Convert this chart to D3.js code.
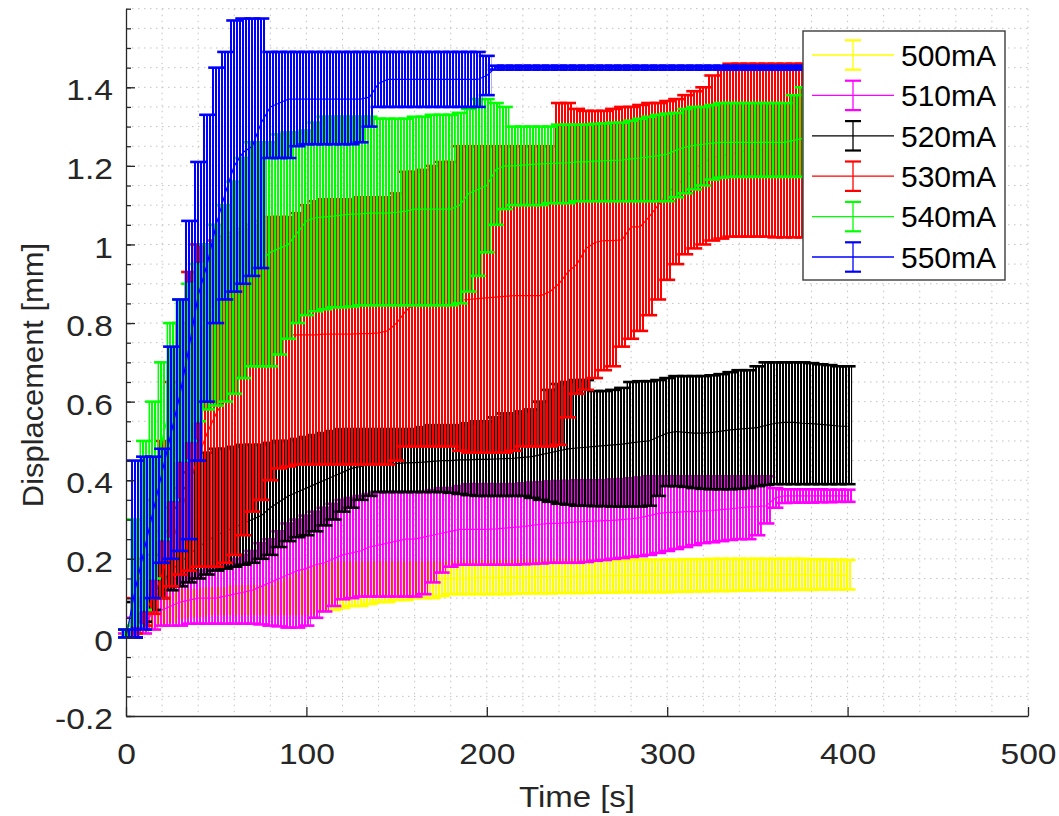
<!DOCTYPE html>
<html>
<head>
<meta charset="utf-8">
<script src="https://cdn.jsdelivr.net/npm/d3@7"></script>
<style>
  html, body { margin: 0; padding: 0; background: #ffffff; }
  svg { display: block; font-family: "Liberation Sans", Arial, Helvetica, sans-serif; }
</style>
</head>
<body>
<svg id="chart" width="1059" height="816"></svg>
<script>
// ---- sample times (s) ----
const TIME = [
  0, 5, 10, 15, 20, 25, 30, 35, 40, 45,
  50, 55, 60, 65, 70, 75, 80, 85, 90, 95,
  100, 105, 110, 115, 120, 125, 130, 135, 140, 145,
  150, 155, 160, 165, 170, 175, 180, 185, 190, 195,
  200, 205, 210, 215, 220, 225, 230, 235, 240, 245,
  250, 255, 260, 265, 270, 275, 280, 285, 290, 295,
  300, 305, 310, 315, 320, 325, 330, 335, 340, 345,
  350, 355, 360, 365, 370, 375, 380, 385, 390, 395,
  400
];

// ---- 500 mA ----
const MEAN_500 = [
  0.00, 0.01, 0.03, 0.05, 0.06, 0.07, 0.08, 0.085, 0.09, 0.09,
  0.09, 0.09, 0.095, 0.095, 0.10, 0.10, 0.10, 0.105, 0.11, 0.11,
  0.115, 0.12, 0.12, 0.125, 0.13, 0.13, 0.135, 0.135, 0.14, 0.14,
  0.14, 0.145, 0.145, 0.15, 0.15, 0.15, 0.15, 0.151, 0.151, 0.152,
  0.152, 0.152, 0.153, 0.153, 0.154, 0.154, 0.155, 0.155, 0.155, 0.155,
  0.156, 0.156, 0.156, 0.157, 0.157, 0.157, 0.158, 0.158, 0.158, 0.158,
  0.159, 0.159, 0.159, 0.16, 0.16, 0.16, 0.16, 0.16, 0.161, 0.161,
  0.161, 0.161, 0.16, 0.16, 0.16, 0.16, 0.159, 0.159, 0.159, 0.158,
  0.158
];
const LO_500 = [
  0.00, 0.00, 0.01, 0.02, 0.03, 0.04, 0.05, 0.055, 0.055, 0.06,
  0.06, 0.06, 0.06, 0.06, 0.06, 0.06, 0.06, 0.06, 0.06, 0.06,
  0.06, 0.065, 0.07, 0.07, 0.075, 0.08, 0.08, 0.085, 0.09, 0.09,
  0.095, 0.095, 0.10, 0.10, 0.10, 0.105, 0.11, 0.11, 0.11, 0.11,
  0.11, 0.11, 0.11, 0.111, 0.112, 0.112, 0.112, 0.112, 0.113, 0.113,
  0.113, 0.113, 0.114, 0.114, 0.114, 0.115, 0.115, 0.115, 0.115, 0.115,
  0.115, 0.116, 0.116, 0.117, 0.117, 0.118, 0.118, 0.118, 0.119, 0.119,
  0.12, 0.12, 0.12, 0.12, 0.121, 0.121, 0.121, 0.122, 0.122, 0.122,
  0.122
];
const HI_500 = [
  0.01, 0.03, 0.06, 0.09, 0.10, 0.11, 0.12, 0.12, 0.12, 0.125,
  0.125, 0.125, 0.13, 0.13, 0.13, 0.13, 0.13, 0.14, 0.15, 0.16,
  0.17, 0.18, 0.185, 0.19, 0.19, 0.19, 0.19, 0.19, 0.19, 0.19,
  0.19, 0.19, 0.19, 0.19, 0.19, 0.19, 0.19, 0.192, 0.192, 0.193,
  0.193, 0.193, 0.194, 0.194, 0.195, 0.195, 0.195, 0.195, 0.196, 0.196,
  0.196, 0.196, 0.197, 0.197, 0.197, 0.197, 0.198, 0.198, 0.198, 0.198,
  0.198, 0.198, 0.199, 0.199, 0.199, 0.20, 0.20, 0.20, 0.20, 0.20,
  0.20, 0.20, 0.20, 0.20, 0.20, 0.20, 0.199, 0.199, 0.198, 0.198,
  0.197
];

// ---- 510 mA ----
const MEAN_510 = [
  0.00, 0.02, 0.04, 0.06, 0.07, 0.08, 0.09, 0.095, 0.10, 0.10,
  0.10, 0.105, 0.11, 0.115, 0.12, 0.13, 0.14, 0.15, 0.16, 0.17,
  0.175, 0.185, 0.19, 0.20, 0.21, 0.215, 0.22, 0.23, 0.235, 0.24,
  0.245, 0.25, 0.25, 0.255, 0.26, 0.265, 0.27, 0.275, 0.275, 0.275,
  0.275, 0.276, 0.278, 0.28, 0.282, 0.285, 0.288, 0.29, 0.29, 0.292,
  0.294, 0.295, 0.296, 0.297, 0.298, 0.30, 0.302, 0.305, 0.31, 0.315,
  0.318, 0.318, 0.32, 0.32, 0.322, 0.323, 0.325, 0.327, 0.33, 0.332,
  0.333, 0.335, 0.355, 0.36, 0.36, 0.36, 0.36, 0.36, 0.36, 0.36,
  0.36
];
const LO_510 = [
  0.00, 0.00, 0.01, 0.02, 0.03, 0.03, 0.03, 0.035, 0.035, 0.035,
  0.035, 0.035, 0.035, 0.035, 0.035, 0.033, 0.03, 0.028, 0.025, 0.025,
  0.03, 0.05, 0.066, 0.08, 0.097, 0.10, 0.104, 0.104, 0.104, 0.104,
  0.104, 0.104, 0.104, 0.11, 0.14, 0.165, 0.18, 0.185, 0.185, 0.185,
  0.185, 0.185, 0.185, 0.185, 0.186, 0.187, 0.188, 0.19, 0.19, 0.19,
  0.19, 0.192, 0.195, 0.197, 0.20, 0.202, 0.205, 0.207, 0.21, 0.215,
  0.22, 0.225, 0.23, 0.235, 0.24, 0.242, 0.245, 0.248, 0.25, 0.25,
  0.26, 0.29, 0.33, 0.342, 0.343, 0.343, 0.343, 0.344, 0.344, 0.345,
  0.345
];
const HI_510 = [
  0.01, 0.05, 0.08, 0.11, 0.13, 0.15, 0.16, 0.17, 0.17, 0.18,
  0.18, 0.19, 0.20, 0.21, 0.22, 0.24, 0.25, 0.27, 0.29, 0.30,
  0.31, 0.32, 0.33, 0.34, 0.35, 0.355, 0.36, 0.365, 0.37, 0.37,
  0.37, 0.37, 0.37, 0.37, 0.375, 0.38, 0.38, 0.385, 0.39, 0.39,
  0.39, 0.39, 0.39, 0.39, 0.392, 0.394, 0.395, 0.397, 0.398, 0.398,
  0.40, 0.40, 0.40, 0.40, 0.402, 0.403, 0.405, 0.407, 0.41, 0.41,
  0.41, 0.41, 0.41, 0.41, 0.41, 0.41, 0.41, 0.41, 0.41, 0.41,
  0.41, 0.41, 0.38, 0.377, 0.377, 0.377, 0.377, 0.377, 0.376, 0.376,
  0.376
];

// ---- 520 mA ----
const MEAN_520 = [
  0.00, 0.04, 0.08, 0.11, 0.14, 0.17, 0.19, 0.21, 0.23, 0.245,
  0.26, 0.27, 0.28, 0.29, 0.30, 0.31, 0.33, 0.345, 0.36, 0.37,
  0.38, 0.39, 0.40, 0.41, 0.42, 0.43, 0.435, 0.44, 0.44, 0.442,
  0.443, 0.444, 0.445, 0.446, 0.448, 0.45, 0.45, 0.452, 0.452, 0.453,
  0.453, 0.454, 0.455, 0.456, 0.458, 0.46, 0.465, 0.47, 0.475, 0.48,
  0.482, 0.484, 0.486, 0.488, 0.49, 0.492, 0.495, 0.498, 0.50, 0.51,
  0.52, 0.524, 0.522, 0.52, 0.52, 0.522, 0.525, 0.528, 0.53, 0.532,
  0.534, 0.54, 0.545, 0.547, 0.547, 0.545, 0.544, 0.542, 0.54, 0.538,
  0.537
];
const LO_520 = [
  0.00, 0.00, 0.04, 0.07, 0.10, 0.12, 0.13, 0.14, 0.15, 0.16,
  0.17, 0.175, 0.18, 0.185, 0.19, 0.20, 0.21, 0.23, 0.245, 0.255,
  0.26, 0.27, 0.285, 0.30, 0.32, 0.33, 0.35, 0.36, 0.37, 0.37,
  0.37, 0.37, 0.37, 0.37, 0.37, 0.37, 0.368, 0.365, 0.362, 0.36,
  0.36, 0.36, 0.36, 0.36, 0.36, 0.355, 0.35, 0.345, 0.34, 0.338,
  0.335, 0.335, 0.334, 0.334, 0.333, 0.333, 0.333, 0.333, 0.335, 0.36,
  0.385, 0.385, 0.383, 0.38, 0.378, 0.377, 0.377, 0.377, 0.378, 0.38,
  0.385, 0.388, 0.39, 0.39, 0.39, 0.39, 0.39, 0.39, 0.39, 0.39,
  0.39
];
const HI_520 = [
  0.02, 0.09, 0.15, 0.21, 0.27, 0.33, 0.38, 0.42, 0.45, 0.47,
  0.48, 0.48, 0.485, 0.49, 0.49, 0.49, 0.495, 0.50, 0.50, 0.505,
  0.51, 0.515, 0.52, 0.525, 0.53, 0.53, 0.53, 0.53, 0.53, 0.53,
  0.53, 0.53, 0.53, 0.535, 0.54, 0.54, 0.54, 0.54, 0.545, 0.55,
  0.55, 0.56, 0.57, 0.57, 0.575, 0.58, 0.60, 0.63, 0.645, 0.65,
  0.655, 0.655, 0.627, 0.627, 0.63, 0.635, 0.65, 0.652, 0.652, 0.655,
  0.66, 0.665, 0.665, 0.665, 0.665, 0.667, 0.67, 0.675, 0.68, 0.68,
  0.69, 0.70, 0.70, 0.70, 0.70, 0.70, 0.698, 0.695, 0.693, 0.69,
  0.69
];

// ---- 530 mA ----
const MEAN_530 = [
  0.00, 0.03, 0.06, 0.10, 0.16, 0.23, 0.31, 0.39, 0.46, 0.52,
  0.57, 0.61, 0.65, 0.69, 0.72, 0.74, 0.755, 0.765, 0.77, 0.77,
  0.77, 0.77, 0.772, 0.772, 0.772, 0.772, 0.773, 0.773, 0.775, 0.78,
  0.80, 0.83, 0.85, 0.855, 0.855, 0.856, 0.857, 0.858, 0.86, 0.862,
  0.864, 0.866, 0.868, 0.87, 0.87, 0.87, 0.87, 0.88, 0.90, 0.93,
  0.95, 0.99, 1.005, 1.01, 1.01, 1.012, 1.045, 1.045, 1.07, 1.10,
  1.13, 1.15, 1.17, 1.19, 1.21, 1.22, 1.225, 1.23, 1.235, 1.24,
  1.24, 1.24, 1.24, 1.24, 1.24, 1.24, 1.24, 1.24, 1.24, 1.24,
  1.24
];
const LO_530 = [
  0.00, 0.01, 0.03, 0.06, 0.10, 0.13, 0.16, 0.17, 0.18, 0.18,
  0.18, 0.19, 0.21, 0.26, 0.32, 0.35, 0.40, 0.43, 0.435, 0.44,
  0.44, 0.44, 0.44, 0.44, 0.44, 0.44, 0.44, 0.44, 0.44, 0.44,
  0.45, 0.486, 0.486, 0.486, 0.486, 0.486, 0.486, 0.475, 0.47, 0.47,
  0.47, 0.47, 0.47, 0.475, 0.486, 0.486, 0.486, 0.486, 0.49, 0.56,
  0.62, 0.63, 0.66, 0.68, 0.69, 0.74, 0.76, 0.78, 0.82, 0.86,
  0.91, 0.95, 0.975, 0.99, 1.00, 1.01, 1.015, 1.02, 1.02, 1.02,
  1.02, 1.02, 1.018, 1.018, 1.018, 1.018, 1.018, 1.018, 1.018, 1.018,
  1.018
];
const HI_530 = [
  0.02, 0.10, 0.20, 0.35, 0.50, 0.65, 0.80, 0.93, 1.00, 1.00,
  1.01, 1.02, 1.03, 1.04, 1.05, 1.06, 1.07, 1.07, 1.07, 1.08,
  1.10, 1.11, 1.115, 1.115, 1.115, 1.115, 1.12, 1.12, 1.12, 1.12,
  1.13, 1.185, 1.185, 1.19, 1.20, 1.21, 1.21, 1.25, 1.25, 1.25,
  1.25, 1.25, 1.25, 1.25, 1.25, 1.25, 1.25, 1.25, 1.36, 1.36,
  1.345, 1.34, 1.34, 1.34, 1.345, 1.35, 1.35, 1.355, 1.36, 1.36,
  1.365, 1.37, 1.38, 1.39, 1.40, 1.43, 1.45, 1.46, 1.46, 1.46,
  1.46, 1.46, 1.46, 1.46, 1.46, 1.46, 1.46, 1.46, 1.46, 1.46,
  1.46
];

// ---- 540 mA ----
const MEAN_540 = [
  0.00, 0.10, 0.25, 0.38, 0.50, 0.60, 0.68, 0.73, 0.78, 0.82,
  0.85, 0.88, 0.90, 0.92, 0.94, 0.96, 0.98, 0.99, 1.00, 1.03,
  1.06, 1.068, 1.07, 1.072, 1.075, 1.077, 1.078, 1.08, 1.08, 1.08,
  1.082, 1.085, 1.09, 1.09, 1.09, 1.09, 1.09, 1.10, 1.13, 1.14,
  1.15, 1.19, 1.20, 1.20, 1.202, 1.204, 1.205, 1.206, 1.207, 1.208,
  1.21, 1.21, 1.212, 1.213, 1.214, 1.215, 1.218, 1.22, 1.223, 1.226,
  1.23, 1.24, 1.248, 1.252, 1.255, 1.258, 1.26, 1.26, 1.26, 1.26,
  1.26, 1.26, 1.26, 1.26, 1.265, 1.27, 1.27, 1.27, 1.27, 1.27,
  1.27
];
const LO_540 = [
  0.00, 0.03, 0.07, 0.15, 0.25, 0.35, 0.45, 0.50, 0.55, 0.58,
  0.59, 0.60, 0.62, 0.66, 0.69, 0.69, 0.69, 0.72, 0.76, 0.80,
  0.82, 0.83, 0.835, 0.84, 0.84, 0.842, 0.845, 0.845, 0.845, 0.845,
  0.845, 0.845, 0.845, 0.845, 0.845, 0.845, 0.845, 0.85, 0.88, 0.92,
  0.98, 1.05, 1.09, 1.10, 1.10, 1.10, 1.10, 1.105, 1.105, 1.105,
  1.11, 1.11, 1.11, 1.11, 1.11, 1.11, 1.11, 1.11, 1.11, 1.11,
  1.11, 1.12, 1.13, 1.14, 1.15, 1.165, 1.17, 1.172, 1.172, 1.172,
  1.172, 1.172, 1.172, 1.172, 1.172, 1.172, 1.172, 1.172, 1.172, 1.172,
  1.172
];
const HI_540 = [
  0.02, 0.30, 0.50, 0.60, 0.70, 0.80, 0.86, 0.90, 0.95, 1.00,
  1.05, 1.10, 1.16, 1.22, 1.26, 1.26, 1.26, 1.28, 1.285, 1.285,
  1.29, 1.31, 1.325, 1.325, 1.325, 1.325, 1.325, 1.325, 1.32, 1.32,
  1.32, 1.32, 1.325, 1.325, 1.33, 1.33, 1.33, 1.335, 1.345, 1.37,
  1.37, 1.36, 1.35, 1.30, 1.30, 1.30, 1.30, 1.30, 1.305, 1.305,
  1.305, 1.305, 1.307, 1.308, 1.31, 1.31, 1.315, 1.32, 1.325, 1.33,
  1.333, 1.335, 1.345, 1.35, 1.35, 1.355, 1.36, 1.36, 1.36, 1.36,
  1.36, 1.36, 1.36, 1.36, 1.38, 1.40, 1.40, 1.40, 1.40, 1.40,
  1.40
];

// ---- 550 mA ----
const MEAN_550 = [
  0.00, 0.12, 0.22, 0.32, 0.42, 0.52, 0.62, 0.74, 0.87, 0.95,
  1.05, 1.13, 1.20, 1.235, 1.25, 1.31, 1.35, 1.36, 1.37, 1.37,
  1.37, 1.37, 1.37, 1.37, 1.37, 1.37, 1.37, 1.375, 1.41, 1.42,
  1.42, 1.42, 1.42, 1.42, 1.42, 1.42, 1.42, 1.42, 1.42, 1.42,
  1.43, 1.45, 1.45, 1.45, 1.45, 1.45, 1.45, 1.45, 1.45, 1.45,
  1.45, 1.45, 1.45, 1.45, 1.45, 1.45, 1.45, 1.45, 1.45, 1.45,
  1.45, 1.45, 1.45, 1.45, 1.45, 1.45, 1.45, 1.45, 1.45, 1.45,
  1.45, 1.45, 1.45, 1.45, 1.45, 1.45, 1.45, 1.45, 1.45, 1.45,
  1.45
];
const LO_550 = [
  0.00, 0.00, 0.02, 0.10, 0.19, 0.20, 0.22, 0.25, 0.45, 0.60,
  0.80, 0.86, 0.88, 0.90, 0.92, 0.94, 1.22, 1.22, 1.22, 1.25,
  1.255, 1.255, 1.255, 1.255, 1.255, 1.255, 1.26, 1.30, 1.35, 1.35,
  1.35, 1.35, 1.35, 1.35, 1.35, 1.35, 1.35, 1.35, 1.35, 1.35,
  1.38, 1.445, 1.445, 1.445, 1.445, 1.445, 1.445, 1.445, 1.445, 1.445,
  1.445, 1.445, 1.445, 1.445, 1.445, 1.445, 1.445, 1.445, 1.445, 1.445,
  1.445, 1.445, 1.445, 1.445, 1.445, 1.445, 1.445, 1.445, 1.445, 1.445,
  1.445, 1.445, 1.445, 1.445, 1.445, 1.445, 1.445, 1.445, 1.445, 1.445,
  1.445
];
const HI_550 = [
  0.02, 0.45, 0.46, 0.46, 0.48, 0.74, 0.86, 1.06, 1.21, 1.33,
  1.45, 1.49, 1.57, 1.575, 1.575, 1.575, 1.49, 1.49, 1.49, 1.49,
  1.49, 1.49, 1.49, 1.49, 1.49, 1.49, 1.49, 1.49, 1.49, 1.49,
  1.49, 1.49, 1.49, 1.49, 1.49, 1.49, 1.49, 1.49, 1.49, 1.49,
  1.48, 1.455, 1.455, 1.455, 1.455, 1.455, 1.455, 1.455, 1.455, 1.455,
  1.455, 1.455, 1.455, 1.455, 1.455, 1.455, 1.455, 1.455, 1.455, 1.455,
  1.455, 1.455, 1.455, 1.455, 1.455, 1.455, 1.455, 1.455, 1.455, 1.455,
  1.455, 1.455, 1.455, 1.455, 1.455, 1.455, 1.455, 1.455, 1.455, 1.455,
  1.455
];

// ---- labels, colours, ticks ----
const SERIES_NAMES = ["500mA", "510mA", "520mA", "530mA", "540mA", "550mA"];
const SERIES_COLORS = ["#ffff00", "#ff00ff", "#000000", "#ff0000", "#00ff00", "#0000ff"];
const X_TICKS = [0, 100, 200, 300, 400, 500];
const Y_TICKS = [-0.2, 0, 0.2, 0.4, 0.6, 0.8, 1, 1.2, 1.4];

const series = [
  { mean: MEAN_500, lo: LO_500, hi: HI_500 },
  { mean: MEAN_510, lo: LO_510, hi: HI_510 },
  { mean: MEAN_520, lo: LO_520, hi: HI_520 },
  { mean: MEAN_530, lo: LO_530, hi: HI_530 },
  { mean: MEAN_540, lo: LO_540, hi: HI_540 },
  { mean: MEAN_550, lo: LO_550, hi: HI_550 }
].map((s, k) => ({
  name: SERIES_NAMES[k],
  color: SERIES_COLORS[k],
  points: TIME.map((t, i) => ({ t: t, m: s.mean[i], lo: s.lo[i], hi: s.hi[i] }))
}));

// ---- layout ----
const AXIS_COLOR = "#262626";
const FONT_SIZE = 30;
const LABEL_STRETCH = 1.12;   // tick numerals are drawn slightly wide
const svg = d3.select("#chart");
const x = d3.scaleLinear().domain([0, 500]).range([126, 1028]);
const y = d3.scaleLinear().domain([-0.2, 1.6]).range([716, 8.7]);
const plainNumber = d => String(d);

// hatched fill per series: thin vertical strokes, phase shifted per series so
// overlapping bands interleave
const defs = svg.append("defs");
series.forEach((s, k) => {
  const p = defs.append("pattern")
    .attr("id", "hatch-" + k)
    .attr("patternUnits", "userSpaceOnUse")
    .attr("x", k % 3).attr("y", 0)
    .attr("width", 3).attr("height", 8);
  p.append("rect").attr("x", 0).attr("y", 0).attr("width", 2).attr("height", 8)
    .attr("fill", s.color);
});

// ---- dotted grid (every 20 s, every 0.05 mm) ----
const grid = svg.append("g")
  .attr("stroke", "#c2c2c2")
  .attr("stroke-width", 1)
  .attr("stroke-dasharray", "1.5,4.5");
grid.selectAll("line.gx").data(x.ticks(25).filter(v => v > 0)).join("line")
  .attr("class", "gx")
  .attr("x1", d => x(d)).attr("x2", d => x(d))
  .attr("y1", y.range()[1]).attr("y2", y.range()[0]);
grid.selectAll("line.gy").data(y.ticks(36).filter(v => v > -0.2 + 1e-9)).join("line")
  .attr("class", "gy")
  .attr("x1", x.range()[0]).attr("x2", x.range()[1])
  .attr("y1", d => y(d)).attr("y2", d => y(d));

// ---- error bars: one hatched bar per sample, caps at both ends, mean line ----
const BAR_W = x(TIME[1]) - x(TIME[0]);
const CAP_HALF = 8;
series.forEach((s, k) => {
  const g = svg.append("g").attr("class", "series");
  g.selectAll("rect.bar").data(s.points).join("rect")
    .attr("class", "bar")
    .attr("x", d => x(d.t) - BAR_W / 2)
    .attr("width", BAR_W)
    .attr("y", d => y(d.hi))
    .attr("height", d => Math.max(0, y(d.lo) - y(d.hi)))
    .attr("fill", `url(#hatch-${k})`);
  ["lo", "hi"].forEach(key => {
    g.selectAll("line.cap-" + key).data(s.points).join("line")
      .attr("class", "cap-" + key)
      .attr("x1", d => x(d.t) - CAP_HALF).attr("x2", d => x(d.t) + CAP_HALF)
      .attr("y1", d => y(d[key])).attr("y2", d => y(d[key]))
      .attr("stroke", s.color)
      .attr("stroke-width", 2.6);
  });
  g.append("path")
    .datum(s.points)
    .attr("fill", "none")
    .attr("stroke", s.color)
    .attr("stroke-width", 1.2)
    .attr("d", d3.line().x(d => x(d.t)).y(d => y(d.m)));
});

// ---- axes ----
const yAxis = svg.append("g")
  .attr("transform", `translate(${x.range()[0]},0)`)
  .call(d3.axisLeft(y).tickValues(Y_TICKS).tickSize(-9).tickPadding(13).tickSizeOuter(0)
    .tickFormat(plainNumber));
const yMinor = svg.append("g")
  .attr("transform", `translate(${x.range()[0]},0)`)
  .call(d3.axisLeft(y).tickValues(y.ticks(36)).tickSize(-5).tickFormat("").tickSizeOuter(0));
yMinor.select(".domain").remove();

const xAxis = svg.append("g")
  .attr("transform", `translate(0,${y.range()[0]})`)
  .call(d3.axisBottom(x).tickValues(X_TICKS).tickSize(-9).tickPadding(27).tickSizeOuter(0)
    .tickFormat(plainNumber));

[yAxis, yMinor, xAxis].forEach(a => {
  a.selectAll(".domain").attr("stroke", AXIS_COLOR).attr("stroke-width", 1.3);
  a.selectAll(".tick line").attr("stroke", AXIS_COLOR).attr("stroke-width", 1.3);
  a.selectAll(".tick text")
    .attr("fill", AXIS_COLOR)
    .style("font-size", FONT_SIZE + "px")
    .style("font-family", '"Liberation Sans", Arial, Helvetica, sans-serif');
});
yAxis.selectAll(".tick text").attr("dy", "0.42em")
  .attr("x", -13 / LABEL_STRETCH)
  .attr("transform", `scale(${LABEL_STRETCH},1)`);
xAxis.selectAll(".tick text").attr("transform", `scale(${LABEL_STRETCH},1)`);

// ---- axis titles ----
svg.append("text")
  .attr("transform", `translate(${(x.range()[0] + x.range()[1]) / 2},807) scale(1.1,1)`)
  .attr("text-anchor", "middle")
  .attr("fill", AXIS_COLOR)
  .style("font-size", FONT_SIZE + "px")
  .text("Time [s]");
svg.append("text")
  .attr("transform", `translate(43,375) rotate(-90) scale(1.03,1)`)
  .attr("text-anchor", "middle")
  .attr("fill", AXIS_COLOR)
  .style("font-size", FONT_SIZE + "px")
  .text("Displacement [mm]");

// ---- legend ----
const LEG = { x: 803, y: 31, w: 202, h: 249, row: 40.4, first: 24 };
const legend = svg.append("g");
legend.append("rect")
  .attr("x", LEG.x).attr("y", LEG.y).attr("width", LEG.w).attr("height", LEG.h)
  .attr("fill", "#ffffff").attr("stroke", "#3c3c3c").attr("stroke-width", 1.4);
series.forEach((s, k) => {
  const cy = LEG.y + LEG.first + k * LEG.row;
  const g = legend.append("g").attr("transform", `translate(0,${cy})`);
  g.append("line").attr("x1", 812).attr("x2", 894).attr("y1", 0).attr("y2", 0)
    .attr("stroke", s.color).attr("stroke-width", 1.3);
  g.append("line").attr("x1", 853).attr("x2", 853).attr("y1", -14.7).attr("y2", 14.7)
    .attr("stroke", s.color).attr("stroke-width", 1.3);
  [-14.7, 14.7].forEach(dy => {
    g.append("line").attr("x1", 845).attr("x2", 861).attr("y1", dy).attr("y2", dy)
      .attr("stroke", s.color).attr("stroke-width", 2.2);
  });
  g.append("text").attr("x", 901).attr("y", 0).attr("dy", "0.36em")
    .attr("fill", "#000000")
    .style("font-size", FONT_SIZE + "px")
    .text(s.name);
});
</script>
</body>
</html>
